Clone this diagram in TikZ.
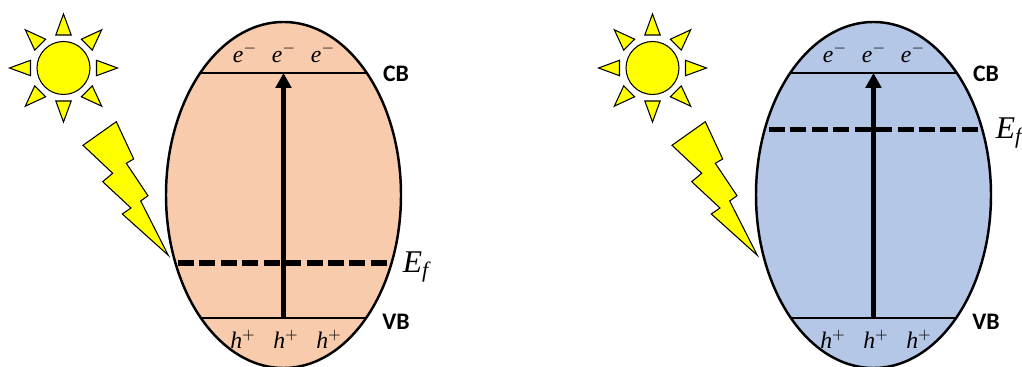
\documentclass[tikz,border=0pt]{standalone}
\usepackage{fontspec}
\setmainfont{Carlito}
\newfontfamily\symbfont{Liberation Serif}
\usepackage{tikz}
\usetikzlibrary{shapes.geometric, arrows.meta}

\definecolor{ptype}{HTML}{F8CBAD}
\definecolor{ntype}{HTML}{B4C7E7}
\definecolor{sunyellow}{HTML}{FFFF00}

\begin{document}
\begin{tikzpicture}[
    x=0.02cm, y=-0.02cm,
    >=Latex,
    bandgap/.style={draw, ellipse, line width=1.4pt, inner sep=0pt, outer sep=0pt, minimum width=235*0.02cm, minimum height=346*0.02cm},
    level/.style={line width=1.5pt},
    fermi/.style={line width=3.1pt, dash pattern=on 9.1pt off 3.1pt},
    excite/.style={-{Triangle[length=8.5pt, width=8.8pt]}, line width=3.1pt},
    bandlbl/.style={font=\fontsize{13.5}{15}\selectfont\bfseries, inner sep=0pt},
    carrier/.style={font=\fontsize{13.5}{16}\selectfont\symbfont\itshape, inner sep=0pt},
    efermi/.style={font=\fontsize{18}{21}\selectfont\symbfont\itshape, inner sep=0pt},
    shine/.style={draw, fill=sunyellow, line width=0.6pt, line join=miter},
    sunbolt/.pic={
        \node[shine, circle, minimum width=53*0.02cm, inner sep=0pt] (-disc) at (63.5,68) {};
        \foreach \ang in {0,45,...,315}
            \draw[shine, rotate around={\ang:(63.5,68)}] (55.8,35) -- (63.5,14) -- (71.2,35) -- cycle;
        \draw[shine] (116.3,121.7) -- (133.7,159) -- (126.3,163.3) -- (148,195.7) -- (140.7,201)
            -- (168.3,255.3) -- (122.3,214) -- (131,208) -- (102.7,181.7) -- (112.7,173.3) -- (83,145.3) -- cycle;
    }
]
\useasboundingbox (0,0) rectangle (1022,367);

% left panel
\pic (lsun) at (0,0) {sunbolt};
\node[bandgap, fill=ptype] (lgap) at (283.5,195) {};
\coordinate (lcbl) at (200.5,73);
\coordinate (lcbr) at (366,73);
\coordinate (lcbm) at (283.5,73);
\coordinate (lvbl) at (201,318);
\coordinate (lvbr) at (366,318);
\coordinate (lvbm) at (283.5,318);
\coordinate (lefl) at (178,263);
\coordinate (lefr) at (389,263);
\draw[level] (lcbl) -- (lcbr);
\draw[level] (lvbl) -- (lvbr);
\draw[fermi] (lefl) -- (lefr);
\draw[excite] (lvbm) -- (lcbm);
\node[carrier] (le1) at (245,53) {e$^{-}$};
\node[carrier] (le2) at (284,53) {e$^{-}$};
\node[carrier] (le3) at (323,53) {e$^{-}$};
\node[carrier] (lh1) at (243,339) {h$^{+}$};
\node[carrier] (lh2) at (286,339) {h$^{+}$};
\node[carrier] (lh3) at (329,339) {h$^{+}$};
\node[bandlbl] (lcb) at (396,74) {CB};
\node[bandlbl] (lvb) at (396,322) {VB};
\node[efermi] (lef) at (416,267) {E\textsubscript{f}};

% right panel
\pic (rsun) at (589,0) {sunbolt};
\node[bandgap, fill=ntype] (rgap) at (873.5,195) {};
\coordinate (rcbl) at (790.5,73);
\coordinate (rcbr) at (956,73);
\coordinate (rcbm) at (873.5,73);
\coordinate (rvbl) at (791,318);
\coordinate (rvbr) at (956,318);
\coordinate (rvbm) at (873.5,318);
\coordinate (refl) at (769,129.5);
\coordinate (refr) at (978,129.5);
\draw[level] (rcbl) -- (rcbr);
\draw[level] (rvbl) -- (rvbr);
\draw[fermi] (refl) -- (refr);
\draw[excite] (rvbm) -- (rcbm);
\node[carrier] (re1) at (835,53) {e$^{-}$};
\node[carrier] (re2) at (874,53) {e$^{-}$};
\node[carrier] (re3) at (913,53) {e$^{-}$};
\node[carrier] (rh1) at (833,339) {h$^{+}$};
\node[carrier] (rh2) at (876,339) {h$^{+}$};
\node[carrier] (rh3) at (919,339) {h$^{+}$};
\node[bandlbl] (rcb) at (986,74) {CB};
\node[bandlbl] (rvb) at (986,322) {VB};
\node[efermi] (ref) at (1009,133) {E\textsubscript{f}};
\end{tikzpicture}
\end{document}
